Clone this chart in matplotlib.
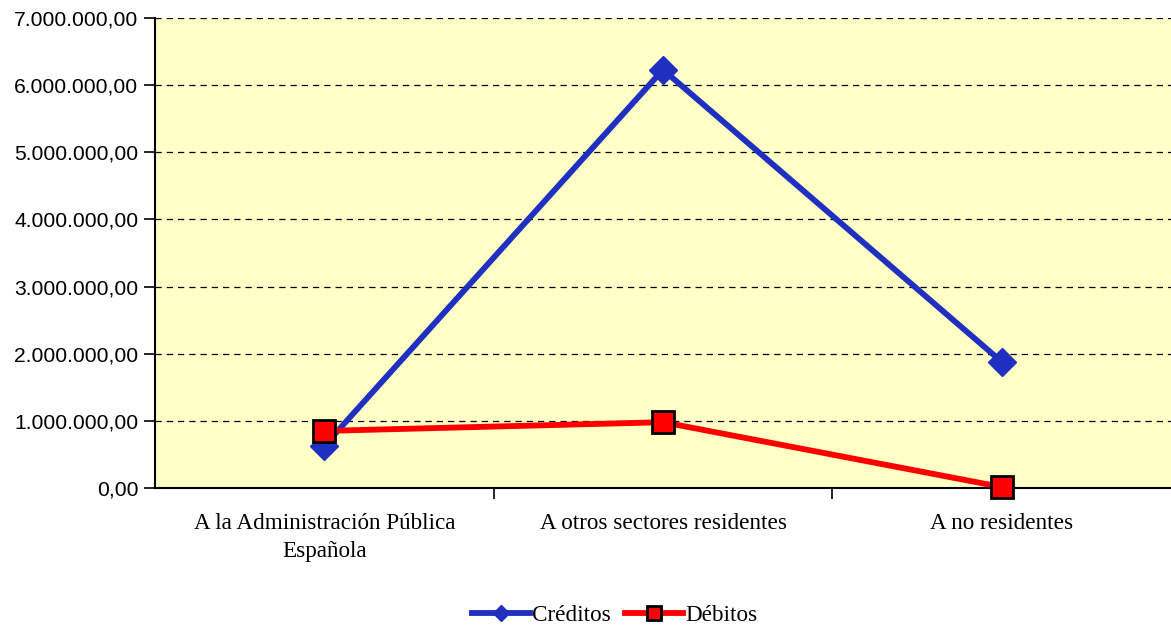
import matplotlib
matplotlib.use("Agg")
import matplotlib.pyplot as plt
from matplotlib.ticker import FuncFormatter, FixedLocator, NullFormatter

categories = ["A la Administración Pública\nEspañola", "A otros sectores residentes", "A no residentes"]
creditos = [630000, 6230000, 1880000]
debitos = [850000, 980000, 15000]
yticks = [0, 1000000, 2000000, 3000000, 4000000, 5000000, 6000000, 7000000]

def fmt(v, pos=None):
    s = f"{v:,.2f}"
    return s.replace(",", "X").replace(".", ",").replace("X", ".")

fig = plt.figure(figsize=(11.71, 6.29), dpi=100)
ax = fig.add_axes([155/1171, 1 - 488/629, (1171-155)/1171, (488-18)/629])
ax.set_facecolor("#FFFFC6")

x = list(range(len(categories)))
ax.plot(x, creditos, color="#1F2FBF", lw=4.2, marker="D", ms=14, mec="#1F2FBF",
        mfc="#1F2FBF", label="Créditos", zorder=3, clip_on=False)
ax.plot(x, debitos, color="#FF0000", lw=4.2, marker="s", ms=16, mec="black", mew=2,
        mfc="#FF0000", label="Débitos", zorder=4, clip_on=False)

ax.set_xlim(-0.5, len(categories) - 0.5)
ax.set_ylim(0, 7000000)
ax.set_yticks(yticks)
ax.yaxis.set_major_formatter(FuncFormatter(fmt))
ax.grid(axis="y", color="black", linestyle=(0, (5, 4)), lw=0.9)
ax.set_axisbelow(True)

ax.xaxis.set_major_locator(FixedLocator([0.5, 1.5]))
ax.xaxis.set_major_formatter(NullFormatter())
ax.xaxis.set_minor_locator(FixedLocator(x))
ax.set_xticklabels(categories, minor=True, fontfamily="Liberation Serif", fontsize=16.7,
                   linespacing=1.45)
ax.tick_params(axis="x", which="minor", length=0, pad=18)
ax.tick_params(axis="x", which="major", length=8, width=1.2, direction="out")
ax.tick_params(axis="y", length=8, width=1.2, direction="out", pad=4)
for lbl in ax.get_yticklabels():
    lbl.set_fontfamily("Liberation Sans")
    lbl.set_fontsize(15.2)

for side in ["top", "right"]:
    ax.spines[side].set_visible(False)
ax.spines["left"].set_linewidth(1.5)
ax.spines["bottom"].set_linewidth(1.5)

leg = fig.legend(loc="center", bbox_to_anchor=(0.525, 1 - 615/629), ncol=2, frameon=False,
                 prop={"family": "Liberation Serif", "size": 16.7}, handlelength=2.5,
                 columnspacing=0.6, handletextpad=0.1, markerscale=0.6)

fig.savefig("out.png", dpi=100)
